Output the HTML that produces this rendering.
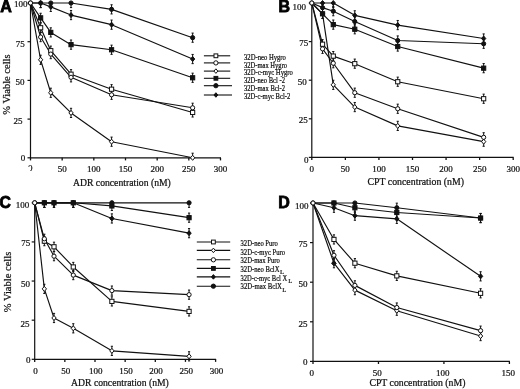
<!DOCTYPE html>
<html><head><meta charset="utf-8"><style>
html,body{margin:0;padding:0;background:#fff;}
svg{display:block;will-change:transform;}
text{fill:#111;stroke:#111;stroke-width:0.22px;}
</style></head><body>
<svg width="520" height="389" viewBox="0 0 520 389">
<rect width="520" height="389" fill="#fff"/>
<line x1="30.50" y1="2.50" x2="30.50" y2="158.30" stroke="#111" stroke-width="1.2"/>
<line x1="30.00" y1="157.80" x2="221.00" y2="157.80" stroke="#111" stroke-width="1.2"/>
<line x1="27.50" y1="157.80" x2="30.50" y2="157.80" stroke="#111" stroke-width="1.2"/>
<line x1="27.50" y1="119.10" x2="30.50" y2="119.10" stroke="#111" stroke-width="1.2"/>
<line x1="27.50" y1="80.40" x2="30.50" y2="80.40" stroke="#111" stroke-width="1.2"/>
<line x1="27.50" y1="41.70" x2="30.50" y2="41.70" stroke="#111" stroke-width="1.2"/>
<line x1="27.50" y1="3.00" x2="30.50" y2="3.00" stroke="#111" stroke-width="1.2"/>
<line x1="30.50" y1="157.80" x2="30.50" y2="160.40" stroke="#111" stroke-width="1.3"/>
<line x1="62.17" y1="157.80" x2="62.17" y2="160.40" stroke="#111" stroke-width="1.3"/>
<line x1="93.83" y1="157.80" x2="93.83" y2="160.40" stroke="#111" stroke-width="1.3"/>
<line x1="125.50" y1="157.80" x2="125.50" y2="160.40" stroke="#111" stroke-width="1.3"/>
<line x1="157.17" y1="157.80" x2="157.17" y2="160.40" stroke="#111" stroke-width="1.3"/>
<line x1="188.83" y1="157.80" x2="188.83" y2="160.40" stroke="#111" stroke-width="1.3"/>
<line x1="220.50" y1="157.80" x2="220.50" y2="160.40" stroke="#111" stroke-width="1.3"/>
<text x="27.60" y="7.00" font-family="Liberation Serif" font-size="9.0" font-weight="normal" text-anchor="end" >100</text>
<text x="24.80" y="46.90" font-family="Liberation Serif" font-size="9.0" font-weight="normal" text-anchor="end" >75</text>
<text x="24.40" y="85.30" font-family="Liberation Serif" font-size="9.0" font-weight="normal" text-anchor="end" >50</text>
<text x="22.60" y="123.60" font-family="Liberation Serif" font-size="9.0" font-weight="normal" text-anchor="end" >25</text>
<text x="25.20" y="160.80" font-family="Liberation Serif" font-size="9.0" font-weight="normal" text-anchor="end" >0</text>
<text x="62.17" y="172.20" font-family="Liberation Serif" font-size="9.0" font-weight="normal" text-anchor="middle" >50</text>
<text x="93.83" y="172.20" font-family="Liberation Serif" font-size="9.0" font-weight="normal" text-anchor="middle" >100</text>
<text x="125.50" y="172.20" font-family="Liberation Serif" font-size="9.0" font-weight="normal" text-anchor="middle" >150</text>
<text x="157.17" y="172.20" font-family="Liberation Serif" font-size="9.0" font-weight="normal" text-anchor="middle" >200</text>
<text x="188.83" y="172.20" font-family="Liberation Serif" font-size="9.0" font-weight="normal" text-anchor="middle" >250</text>
<text x="220.50" y="172.20" font-family="Liberation Serif" font-size="9.0" font-weight="normal" text-anchor="middle" >300</text>
<polyline points="30.50,3.00 40.63,27.77 50.77,50.68 71.03,74.21 111.57,89.22 192.63,112.44" fill="none" stroke="#111" stroke-width="1.15" stroke-linejoin="round"/>
<polyline points="30.50,3.00 40.63,37.06 50.77,54.08 71.03,77.30 111.57,94.80 192.63,107.80" fill="none" stroke="#111" stroke-width="1.15" stroke-linejoin="round"/>
<polyline points="30.50,3.00 40.63,59.81 50.77,92.78 71.03,112.91 111.57,141.70 192.63,157.80" fill="none" stroke="#111" stroke-width="1.15" stroke-linejoin="round"/>
<polyline points="30.50,3.00 40.63,17.86 50.77,32.41 71.03,44.64 111.57,49.75 192.63,77.77" fill="none" stroke="#111" stroke-width="1.15" stroke-linejoin="round"/>
<polyline points="30.50,3.00 40.63,3.00 50.77,3.00 71.03,3.00 111.57,9.35 192.63,37.68" fill="none" stroke="#111" stroke-width="1.15" stroke-linejoin="round"/>
<polyline points="30.50,3.00 40.63,3.00 50.77,6.87 71.03,15.07 111.57,24.67 192.63,59.04" fill="none" stroke="#111" stroke-width="1.15" stroke-linejoin="round"/>
<line x1="40.63" y1="23.17" x2="40.63" y2="32.37" stroke="#111" stroke-width="1.0"/>
<line x1="39.53" y1="23.17" x2="41.73" y2="23.17" stroke="#111" stroke-width="1.0"/>
<line x1="39.53" y1="32.37" x2="41.73" y2="32.37" stroke="#111" stroke-width="1.0"/>
<line x1="50.77" y1="46.08" x2="50.77" y2="55.28" stroke="#111" stroke-width="1.0"/>
<line x1="49.67" y1="46.08" x2="51.87" y2="46.08" stroke="#111" stroke-width="1.0"/>
<line x1="49.67" y1="55.28" x2="51.87" y2="55.28" stroke="#111" stroke-width="1.0"/>
<line x1="71.03" y1="69.61" x2="71.03" y2="78.81" stroke="#111" stroke-width="1.0"/>
<line x1="69.93" y1="69.61" x2="72.13" y2="69.61" stroke="#111" stroke-width="1.0"/>
<line x1="69.93" y1="78.81" x2="72.13" y2="78.81" stroke="#111" stroke-width="1.0"/>
<line x1="111.57" y1="84.62" x2="111.57" y2="93.82" stroke="#111" stroke-width="1.0"/>
<line x1="110.47" y1="84.62" x2="112.67" y2="84.62" stroke="#111" stroke-width="1.0"/>
<line x1="110.47" y1="93.82" x2="112.67" y2="93.82" stroke="#111" stroke-width="1.0"/>
<line x1="192.63" y1="107.84" x2="192.63" y2="117.04" stroke="#111" stroke-width="1.0"/>
<line x1="191.53" y1="107.84" x2="193.73" y2="107.84" stroke="#111" stroke-width="1.0"/>
<line x1="191.53" y1="117.04" x2="193.73" y2="117.04" stroke="#111" stroke-width="1.0"/>
<line x1="40.63" y1="32.46" x2="40.63" y2="41.66" stroke="#111" stroke-width="1.0"/>
<line x1="39.53" y1="32.46" x2="41.73" y2="32.46" stroke="#111" stroke-width="1.0"/>
<line x1="39.53" y1="41.66" x2="41.73" y2="41.66" stroke="#111" stroke-width="1.0"/>
<line x1="50.77" y1="49.48" x2="50.77" y2="58.68" stroke="#111" stroke-width="1.0"/>
<line x1="49.67" y1="49.48" x2="51.87" y2="49.48" stroke="#111" stroke-width="1.0"/>
<line x1="49.67" y1="58.68" x2="51.87" y2="58.68" stroke="#111" stroke-width="1.0"/>
<line x1="71.03" y1="72.70" x2="71.03" y2="81.90" stroke="#111" stroke-width="1.0"/>
<line x1="69.93" y1="72.70" x2="72.13" y2="72.70" stroke="#111" stroke-width="1.0"/>
<line x1="69.93" y1="81.90" x2="72.13" y2="81.90" stroke="#111" stroke-width="1.0"/>
<line x1="111.57" y1="90.20" x2="111.57" y2="99.40" stroke="#111" stroke-width="1.0"/>
<line x1="110.47" y1="90.20" x2="112.67" y2="90.20" stroke="#111" stroke-width="1.0"/>
<line x1="110.47" y1="99.40" x2="112.67" y2="99.40" stroke="#111" stroke-width="1.0"/>
<line x1="192.63" y1="103.20" x2="192.63" y2="112.40" stroke="#111" stroke-width="1.0"/>
<line x1="191.53" y1="103.20" x2="193.73" y2="103.20" stroke="#111" stroke-width="1.0"/>
<line x1="191.53" y1="112.40" x2="193.73" y2="112.40" stroke="#111" stroke-width="1.0"/>
<line x1="40.63" y1="55.21" x2="40.63" y2="64.41" stroke="#111" stroke-width="1.0"/>
<line x1="39.53" y1="55.21" x2="41.73" y2="55.21" stroke="#111" stroke-width="1.0"/>
<line x1="39.53" y1="64.41" x2="41.73" y2="64.41" stroke="#111" stroke-width="1.0"/>
<line x1="50.77" y1="88.18" x2="50.77" y2="97.38" stroke="#111" stroke-width="1.0"/>
<line x1="49.67" y1="88.18" x2="51.87" y2="88.18" stroke="#111" stroke-width="1.0"/>
<line x1="49.67" y1="97.38" x2="51.87" y2="97.38" stroke="#111" stroke-width="1.0"/>
<line x1="71.03" y1="108.31" x2="71.03" y2="117.51" stroke="#111" stroke-width="1.0"/>
<line x1="69.93" y1="108.31" x2="72.13" y2="108.31" stroke="#111" stroke-width="1.0"/>
<line x1="69.93" y1="117.51" x2="72.13" y2="117.51" stroke="#111" stroke-width="1.0"/>
<line x1="111.57" y1="137.10" x2="111.57" y2="146.30" stroke="#111" stroke-width="1.0"/>
<line x1="110.47" y1="137.10" x2="112.67" y2="137.10" stroke="#111" stroke-width="1.0"/>
<line x1="110.47" y1="146.30" x2="112.67" y2="146.30" stroke="#111" stroke-width="1.0"/>
<line x1="192.63" y1="153.20" x2="192.63" y2="157.80" stroke="#111" stroke-width="1.0"/>
<line x1="191.53" y1="153.20" x2="193.73" y2="153.20" stroke="#111" stroke-width="1.0"/>
<line x1="40.63" y1="13.26" x2="40.63" y2="22.46" stroke="#111" stroke-width="1.0"/>
<line x1="39.53" y1="13.26" x2="41.73" y2="13.26" stroke="#111" stroke-width="1.0"/>
<line x1="39.53" y1="22.46" x2="41.73" y2="22.46" stroke="#111" stroke-width="1.0"/>
<line x1="50.77" y1="27.81" x2="50.77" y2="37.01" stroke="#111" stroke-width="1.0"/>
<line x1="49.67" y1="27.81" x2="51.87" y2="27.81" stroke="#111" stroke-width="1.0"/>
<line x1="49.67" y1="37.01" x2="51.87" y2="37.01" stroke="#111" stroke-width="1.0"/>
<line x1="71.03" y1="40.04" x2="71.03" y2="49.24" stroke="#111" stroke-width="1.0"/>
<line x1="69.93" y1="40.04" x2="72.13" y2="40.04" stroke="#111" stroke-width="1.0"/>
<line x1="69.93" y1="49.24" x2="72.13" y2="49.24" stroke="#111" stroke-width="1.0"/>
<line x1="111.57" y1="45.15" x2="111.57" y2="54.35" stroke="#111" stroke-width="1.0"/>
<line x1="110.47" y1="45.15" x2="112.67" y2="45.15" stroke="#111" stroke-width="1.0"/>
<line x1="110.47" y1="54.35" x2="112.67" y2="54.35" stroke="#111" stroke-width="1.0"/>
<line x1="192.63" y1="73.17" x2="192.63" y2="82.37" stroke="#111" stroke-width="1.0"/>
<line x1="191.53" y1="73.17" x2="193.73" y2="73.17" stroke="#111" stroke-width="1.0"/>
<line x1="191.53" y1="82.37" x2="193.73" y2="82.37" stroke="#111" stroke-width="1.0"/>
<line x1="40.63" y1="3.00" x2="40.63" y2="7.60" stroke="#111" stroke-width="1.0"/>
<line x1="39.53" y1="7.60" x2="41.73" y2="7.60" stroke="#111" stroke-width="1.0"/>
<line x1="50.77" y1="3.00" x2="50.77" y2="7.60" stroke="#111" stroke-width="1.0"/>
<line x1="49.67" y1="7.60" x2="51.87" y2="7.60" stroke="#111" stroke-width="1.0"/>
<line x1="71.03" y1="3.00" x2="71.03" y2="7.60" stroke="#111" stroke-width="1.0"/>
<line x1="69.93" y1="7.60" x2="72.13" y2="7.60" stroke="#111" stroke-width="1.0"/>
<line x1="111.57" y1="4.75" x2="111.57" y2="13.95" stroke="#111" stroke-width="1.0"/>
<line x1="110.47" y1="4.75" x2="112.67" y2="4.75" stroke="#111" stroke-width="1.0"/>
<line x1="110.47" y1="13.95" x2="112.67" y2="13.95" stroke="#111" stroke-width="1.0"/>
<line x1="192.63" y1="33.08" x2="192.63" y2="42.28" stroke="#111" stroke-width="1.0"/>
<line x1="191.53" y1="33.08" x2="193.73" y2="33.08" stroke="#111" stroke-width="1.0"/>
<line x1="191.53" y1="42.28" x2="193.73" y2="42.28" stroke="#111" stroke-width="1.0"/>
<line x1="40.63" y1="3.00" x2="40.63" y2="7.60" stroke="#111" stroke-width="1.0"/>
<line x1="39.53" y1="7.60" x2="41.73" y2="7.60" stroke="#111" stroke-width="1.0"/>
<line x1="50.77" y1="2.27" x2="50.77" y2="11.47" stroke="#111" stroke-width="1.0"/>
<line x1="49.67" y1="2.27" x2="51.87" y2="2.27" stroke="#111" stroke-width="1.0"/>
<line x1="49.67" y1="11.47" x2="51.87" y2="11.47" stroke="#111" stroke-width="1.0"/>
<line x1="71.03" y1="10.47" x2="71.03" y2="19.67" stroke="#111" stroke-width="1.0"/>
<line x1="69.93" y1="10.47" x2="72.13" y2="10.47" stroke="#111" stroke-width="1.0"/>
<line x1="69.93" y1="19.67" x2="72.13" y2="19.67" stroke="#111" stroke-width="1.0"/>
<line x1="111.57" y1="20.07" x2="111.57" y2="29.27" stroke="#111" stroke-width="1.0"/>
<line x1="110.47" y1="20.07" x2="112.67" y2="20.07" stroke="#111" stroke-width="1.0"/>
<line x1="110.47" y1="29.27" x2="112.67" y2="29.27" stroke="#111" stroke-width="1.0"/>
<line x1="192.63" y1="54.44" x2="192.63" y2="63.64" stroke="#111" stroke-width="1.0"/>
<line x1="191.53" y1="54.44" x2="193.73" y2="54.44" stroke="#111" stroke-width="1.0"/>
<line x1="191.53" y1="63.64" x2="193.73" y2="63.64" stroke="#111" stroke-width="1.0"/>
<rect x="38.53" y="25.67" width="4.20" height="4.20" fill="#fff" stroke="#111" stroke-width="1.0"/>
<rect x="48.67" y="48.58" width="4.20" height="4.20" fill="#fff" stroke="#111" stroke-width="1.0"/>
<rect x="68.93" y="72.11" width="4.20" height="4.20" fill="#fff" stroke="#111" stroke-width="1.0"/>
<rect x="109.47" y="87.12" width="4.20" height="4.20" fill="#fff" stroke="#111" stroke-width="1.0"/>
<rect x="190.53" y="110.34" width="4.20" height="4.20" fill="#fff" stroke="#111" stroke-width="1.0"/>
<circle cx="30.50" cy="3.00" r="2.10" fill="#fff" stroke="#111" stroke-width="1.0"/>
<circle cx="40.63" cy="37.06" r="2.10" fill="#fff" stroke="#111" stroke-width="1.0"/>
<circle cx="50.77" cy="54.08" r="2.10" fill="#fff" stroke="#111" stroke-width="1.0"/>
<circle cx="71.03" cy="77.30" r="2.10" fill="#fff" stroke="#111" stroke-width="1.0"/>
<circle cx="111.57" cy="94.80" r="2.10" fill="#fff" stroke="#111" stroke-width="1.0"/>
<circle cx="192.63" cy="107.80" r="2.10" fill="#fff" stroke="#111" stroke-width="1.0"/>
<polygon points="40.63,57.29 42.78,59.81 40.63,62.33 38.49,59.81" fill="#fff" stroke="#111" stroke-width="1.0"/>
<polygon points="50.77,90.26 52.91,92.78 50.77,95.30 48.62,92.78" fill="#fff" stroke="#111" stroke-width="1.0"/>
<polygon points="71.03,110.39 73.18,112.91 71.03,115.43 68.89,112.91" fill="#fff" stroke="#111" stroke-width="1.0"/>
<polygon points="111.57,139.18 113.71,141.70 111.57,144.22 109.42,141.70" fill="#fff" stroke="#111" stroke-width="1.0"/>
<polygon points="192.63,155.28 194.78,157.80 192.63,160.32 190.49,157.80" fill="#fff" stroke="#111" stroke-width="1.0"/>
<rect x="38.53" y="15.76" width="4.20" height="4.20" fill="#111" stroke="#111" stroke-width="1.0"/>
<rect x="48.67" y="30.31" width="4.20" height="4.20" fill="#111" stroke="#111" stroke-width="1.0"/>
<rect x="68.93" y="42.54" width="4.20" height="4.20" fill="#111" stroke="#111" stroke-width="1.0"/>
<rect x="109.47" y="47.65" width="4.20" height="4.20" fill="#111" stroke="#111" stroke-width="1.0"/>
<rect x="190.53" y="75.67" width="4.20" height="4.20" fill="#111" stroke="#111" stroke-width="1.0"/>
<circle cx="40.63" cy="3.00" r="2.10" fill="#111" stroke="#111" stroke-width="1.0"/>
<circle cx="50.77" cy="3.00" r="2.10" fill="#111" stroke="#111" stroke-width="1.0"/>
<circle cx="71.03" cy="3.00" r="2.10" fill="#111" stroke="#111" stroke-width="1.0"/>
<circle cx="111.57" cy="9.35" r="2.10" fill="#111" stroke="#111" stroke-width="1.0"/>
<circle cx="192.63" cy="37.68" r="2.10" fill="#111" stroke="#111" stroke-width="1.0"/>
<polygon points="40.63,0.48 42.78,3.00 40.63,5.52 38.49,3.00" fill="#111" stroke="#111" stroke-width="1.0"/>
<polygon points="50.77,4.35 52.91,6.87 50.77,9.39 48.62,6.87" fill="#111" stroke="#111" stroke-width="1.0"/>
<polygon points="71.03,12.55 73.18,15.07 71.03,17.59 68.89,15.07" fill="#111" stroke="#111" stroke-width="1.0"/>
<polygon points="111.57,22.15 113.71,24.67 111.57,27.19 109.42,24.67" fill="#111" stroke="#111" stroke-width="1.0"/>
<polygon points="192.63,56.52 194.78,59.04 192.63,61.56 190.49,59.04" fill="#111" stroke="#111" stroke-width="1.0"/>
<circle cx="30.50" cy="3.00" r="2.10" fill="#fff" stroke="#111" stroke-width="1.0"/>
<line x1="311.80" y1="2.50" x2="311.80" y2="157.90" stroke="#111" stroke-width="1.2"/>
<line x1="311.30" y1="157.40" x2="513.70" y2="157.40" stroke="#111" stroke-width="1.2"/>
<line x1="308.80" y1="157.40" x2="311.80" y2="157.40" stroke="#111" stroke-width="1.2"/>
<line x1="308.80" y1="118.80" x2="311.80" y2="118.80" stroke="#111" stroke-width="1.2"/>
<line x1="308.80" y1="80.20" x2="311.80" y2="80.20" stroke="#111" stroke-width="1.2"/>
<line x1="308.80" y1="41.60" x2="311.80" y2="41.60" stroke="#111" stroke-width="1.2"/>
<line x1="308.80" y1="3.00" x2="311.80" y2="3.00" stroke="#111" stroke-width="1.2"/>
<line x1="311.80" y1="157.40" x2="311.80" y2="160.00" stroke="#111" stroke-width="1.3"/>
<line x1="345.37" y1="157.40" x2="345.37" y2="160.00" stroke="#111" stroke-width="1.3"/>
<line x1="378.93" y1="157.40" x2="378.93" y2="160.00" stroke="#111" stroke-width="1.3"/>
<line x1="412.50" y1="157.40" x2="412.50" y2="160.00" stroke="#111" stroke-width="1.3"/>
<line x1="446.07" y1="157.40" x2="446.07" y2="160.00" stroke="#111" stroke-width="1.3"/>
<line x1="479.63" y1="157.40" x2="479.63" y2="160.00" stroke="#111" stroke-width="1.3"/>
<line x1="513.20" y1="157.40" x2="513.20" y2="160.00" stroke="#111" stroke-width="1.3"/>
<text x="305.90" y="9.80" font-family="Liberation Serif" font-size="9.0" font-weight="normal" text-anchor="end" >100</text>
<text x="308.30" y="45.80" font-family="Liberation Serif" font-size="9.0" font-weight="normal" text-anchor="end" >75</text>
<text x="306.80" y="84.60" font-family="Liberation Serif" font-size="9.0" font-weight="normal" text-anchor="end" >50</text>
<text x="307.70" y="122.80" font-family="Liberation Serif" font-size="9.0" font-weight="normal" text-anchor="end" >25</text>
<text x="308.60" y="162.60" font-family="Liberation Serif" font-size="9.0" font-weight="normal" text-anchor="end" >0</text>
<text x="311.80" y="171.80" font-family="Liberation Serif" font-size="9.0" font-weight="normal" text-anchor="middle" >0</text>
<text x="345.37" y="171.80" font-family="Liberation Serif" font-size="9.0" font-weight="normal" text-anchor="middle" >50</text>
<text x="378.93" y="171.80" font-family="Liberation Serif" font-size="9.0" font-weight="normal" text-anchor="middle" >100</text>
<text x="412.50" y="171.80" font-family="Liberation Serif" font-size="9.0" font-weight="normal" text-anchor="middle" >150</text>
<text x="446.07" y="171.80" font-family="Liberation Serif" font-size="9.0" font-weight="normal" text-anchor="middle" >200</text>
<text x="479.63" y="171.80" font-family="Liberation Serif" font-size="9.0" font-weight="normal" text-anchor="middle" >250</text>
<text x="513.20" y="171.80" font-family="Liberation Serif" font-size="9.0" font-weight="normal" text-anchor="middle" >300</text>
<polyline points="311.80,3.00 322.54,44.22 333.28,56.11 354.77,63.68 397.73,81.74 483.66,98.73" fill="none" stroke="#111" stroke-width="1.15" stroke-linejoin="round"/>
<polyline points="311.80,3.00 322.54,48.86 333.28,63.22 354.77,92.71 397.73,108.76 483.66,137.33" fill="none" stroke="#111" stroke-width="1.15" stroke-linejoin="round"/>
<polyline points="311.80,3.00 322.54,13.81 333.28,84.83 354.77,107.07 397.73,125.90 483.66,141.65" fill="none" stroke="#111" stroke-width="1.15" stroke-linejoin="round"/>
<polyline points="311.80,3.00 322.54,13.81 333.28,24.62 354.77,29.25 397.73,46.54 483.66,68.16" fill="none" stroke="#111" stroke-width="1.15" stroke-linejoin="round"/>
<polyline points="311.80,3.00 322.54,7.63 333.28,11.18 354.77,21.53 397.73,40.52 483.66,43.76" fill="none" stroke="#111" stroke-width="1.15" stroke-linejoin="round"/>
<polyline points="311.80,3.00 322.54,3.00 333.28,3.00 354.77,15.35 397.73,25.08 483.66,38.51" fill="none" stroke="#111" stroke-width="1.15" stroke-linejoin="round"/>
<line x1="322.54" y1="39.62" x2="322.54" y2="48.82" stroke="#111" stroke-width="1.0"/>
<line x1="321.44" y1="39.62" x2="323.64" y2="39.62" stroke="#111" stroke-width="1.0"/>
<line x1="321.44" y1="48.82" x2="323.64" y2="48.82" stroke="#111" stroke-width="1.0"/>
<line x1="333.28" y1="51.51" x2="333.28" y2="60.71" stroke="#111" stroke-width="1.0"/>
<line x1="332.18" y1="51.51" x2="334.38" y2="51.51" stroke="#111" stroke-width="1.0"/>
<line x1="332.18" y1="60.71" x2="334.38" y2="60.71" stroke="#111" stroke-width="1.0"/>
<line x1="354.77" y1="59.08" x2="354.77" y2="68.28" stroke="#111" stroke-width="1.0"/>
<line x1="353.67" y1="59.08" x2="355.87" y2="59.08" stroke="#111" stroke-width="1.0"/>
<line x1="353.67" y1="68.28" x2="355.87" y2="68.28" stroke="#111" stroke-width="1.0"/>
<line x1="397.73" y1="77.14" x2="397.73" y2="86.34" stroke="#111" stroke-width="1.0"/>
<line x1="396.63" y1="77.14" x2="398.83" y2="77.14" stroke="#111" stroke-width="1.0"/>
<line x1="396.63" y1="86.34" x2="398.83" y2="86.34" stroke="#111" stroke-width="1.0"/>
<line x1="483.66" y1="94.13" x2="483.66" y2="103.33" stroke="#111" stroke-width="1.0"/>
<line x1="482.56" y1="94.13" x2="484.76" y2="94.13" stroke="#111" stroke-width="1.0"/>
<line x1="482.56" y1="103.33" x2="484.76" y2="103.33" stroke="#111" stroke-width="1.0"/>
<line x1="322.54" y1="44.26" x2="322.54" y2="53.46" stroke="#111" stroke-width="1.0"/>
<line x1="321.44" y1="44.26" x2="323.64" y2="44.26" stroke="#111" stroke-width="1.0"/>
<line x1="321.44" y1="53.46" x2="323.64" y2="53.46" stroke="#111" stroke-width="1.0"/>
<line x1="333.28" y1="58.62" x2="333.28" y2="67.82" stroke="#111" stroke-width="1.0"/>
<line x1="332.18" y1="58.62" x2="334.38" y2="58.62" stroke="#111" stroke-width="1.0"/>
<line x1="332.18" y1="67.82" x2="334.38" y2="67.82" stroke="#111" stroke-width="1.0"/>
<line x1="354.77" y1="88.11" x2="354.77" y2="97.31" stroke="#111" stroke-width="1.0"/>
<line x1="353.67" y1="88.11" x2="355.87" y2="88.11" stroke="#111" stroke-width="1.0"/>
<line x1="353.67" y1="97.31" x2="355.87" y2="97.31" stroke="#111" stroke-width="1.0"/>
<line x1="397.73" y1="104.16" x2="397.73" y2="113.36" stroke="#111" stroke-width="1.0"/>
<line x1="396.63" y1="104.16" x2="398.83" y2="104.16" stroke="#111" stroke-width="1.0"/>
<line x1="396.63" y1="113.36" x2="398.83" y2="113.36" stroke="#111" stroke-width="1.0"/>
<line x1="483.66" y1="132.73" x2="483.66" y2="141.93" stroke="#111" stroke-width="1.0"/>
<line x1="482.56" y1="132.73" x2="484.76" y2="132.73" stroke="#111" stroke-width="1.0"/>
<line x1="482.56" y1="141.93" x2="484.76" y2="141.93" stroke="#111" stroke-width="1.0"/>
<line x1="322.54" y1="9.21" x2="322.54" y2="18.41" stroke="#111" stroke-width="1.0"/>
<line x1="321.44" y1="9.21" x2="323.64" y2="9.21" stroke="#111" stroke-width="1.0"/>
<line x1="321.44" y1="18.41" x2="323.64" y2="18.41" stroke="#111" stroke-width="1.0"/>
<line x1="333.28" y1="80.23" x2="333.28" y2="89.43" stroke="#111" stroke-width="1.0"/>
<line x1="332.18" y1="80.23" x2="334.38" y2="80.23" stroke="#111" stroke-width="1.0"/>
<line x1="332.18" y1="89.43" x2="334.38" y2="89.43" stroke="#111" stroke-width="1.0"/>
<line x1="354.77" y1="102.47" x2="354.77" y2="111.67" stroke="#111" stroke-width="1.0"/>
<line x1="353.67" y1="102.47" x2="355.87" y2="102.47" stroke="#111" stroke-width="1.0"/>
<line x1="353.67" y1="111.67" x2="355.87" y2="111.67" stroke="#111" stroke-width="1.0"/>
<line x1="397.73" y1="121.30" x2="397.73" y2="130.50" stroke="#111" stroke-width="1.0"/>
<line x1="396.63" y1="121.30" x2="398.83" y2="121.30" stroke="#111" stroke-width="1.0"/>
<line x1="396.63" y1="130.50" x2="398.83" y2="130.50" stroke="#111" stroke-width="1.0"/>
<line x1="483.66" y1="137.05" x2="483.66" y2="146.25" stroke="#111" stroke-width="1.0"/>
<line x1="482.56" y1="137.05" x2="484.76" y2="137.05" stroke="#111" stroke-width="1.0"/>
<line x1="482.56" y1="146.25" x2="484.76" y2="146.25" stroke="#111" stroke-width="1.0"/>
<line x1="322.54" y1="9.21" x2="322.54" y2="18.41" stroke="#111" stroke-width="1.0"/>
<line x1="321.44" y1="9.21" x2="323.64" y2="9.21" stroke="#111" stroke-width="1.0"/>
<line x1="321.44" y1="18.41" x2="323.64" y2="18.41" stroke="#111" stroke-width="1.0"/>
<line x1="333.28" y1="20.02" x2="333.28" y2="29.22" stroke="#111" stroke-width="1.0"/>
<line x1="332.18" y1="20.02" x2="334.38" y2="20.02" stroke="#111" stroke-width="1.0"/>
<line x1="332.18" y1="29.22" x2="334.38" y2="29.22" stroke="#111" stroke-width="1.0"/>
<line x1="354.77" y1="24.65" x2="354.77" y2="33.85" stroke="#111" stroke-width="1.0"/>
<line x1="353.67" y1="24.65" x2="355.87" y2="24.65" stroke="#111" stroke-width="1.0"/>
<line x1="353.67" y1="33.85" x2="355.87" y2="33.85" stroke="#111" stroke-width="1.0"/>
<line x1="397.73" y1="41.94" x2="397.73" y2="51.14" stroke="#111" stroke-width="1.0"/>
<line x1="396.63" y1="41.94" x2="398.83" y2="41.94" stroke="#111" stroke-width="1.0"/>
<line x1="396.63" y1="51.14" x2="398.83" y2="51.14" stroke="#111" stroke-width="1.0"/>
<line x1="483.66" y1="63.56" x2="483.66" y2="72.76" stroke="#111" stroke-width="1.0"/>
<line x1="482.56" y1="63.56" x2="484.76" y2="63.56" stroke="#111" stroke-width="1.0"/>
<line x1="482.56" y1="72.76" x2="484.76" y2="72.76" stroke="#111" stroke-width="1.0"/>
<line x1="322.54" y1="3.03" x2="322.54" y2="12.23" stroke="#111" stroke-width="1.0"/>
<line x1="321.44" y1="3.03" x2="323.64" y2="3.03" stroke="#111" stroke-width="1.0"/>
<line x1="321.44" y1="12.23" x2="323.64" y2="12.23" stroke="#111" stroke-width="1.0"/>
<line x1="333.28" y1="6.58" x2="333.28" y2="15.78" stroke="#111" stroke-width="1.0"/>
<line x1="332.18" y1="6.58" x2="334.38" y2="6.58" stroke="#111" stroke-width="1.0"/>
<line x1="332.18" y1="15.78" x2="334.38" y2="15.78" stroke="#111" stroke-width="1.0"/>
<line x1="354.77" y1="16.93" x2="354.77" y2="26.13" stroke="#111" stroke-width="1.0"/>
<line x1="353.67" y1="16.93" x2="355.87" y2="16.93" stroke="#111" stroke-width="1.0"/>
<line x1="353.67" y1="26.13" x2="355.87" y2="26.13" stroke="#111" stroke-width="1.0"/>
<line x1="397.73" y1="35.92" x2="397.73" y2="45.12" stroke="#111" stroke-width="1.0"/>
<line x1="396.63" y1="35.92" x2="398.83" y2="35.92" stroke="#111" stroke-width="1.0"/>
<line x1="396.63" y1="45.12" x2="398.83" y2="45.12" stroke="#111" stroke-width="1.0"/>
<line x1="483.66" y1="39.16" x2="483.66" y2="48.36" stroke="#111" stroke-width="1.0"/>
<line x1="482.56" y1="39.16" x2="484.76" y2="39.16" stroke="#111" stroke-width="1.0"/>
<line x1="482.56" y1="48.36" x2="484.76" y2="48.36" stroke="#111" stroke-width="1.0"/>
<line x1="322.54" y1="3.00" x2="322.54" y2="7.60" stroke="#111" stroke-width="1.0"/>
<line x1="321.44" y1="7.60" x2="323.64" y2="7.60" stroke="#111" stroke-width="1.0"/>
<line x1="333.28" y1="3.00" x2="333.28" y2="7.60" stroke="#111" stroke-width="1.0"/>
<line x1="332.18" y1="7.60" x2="334.38" y2="7.60" stroke="#111" stroke-width="1.0"/>
<line x1="354.77" y1="10.75" x2="354.77" y2="19.95" stroke="#111" stroke-width="1.0"/>
<line x1="353.67" y1="10.75" x2="355.87" y2="10.75" stroke="#111" stroke-width="1.0"/>
<line x1="353.67" y1="19.95" x2="355.87" y2="19.95" stroke="#111" stroke-width="1.0"/>
<line x1="397.73" y1="20.48" x2="397.73" y2="29.68" stroke="#111" stroke-width="1.0"/>
<line x1="396.63" y1="20.48" x2="398.83" y2="20.48" stroke="#111" stroke-width="1.0"/>
<line x1="396.63" y1="29.68" x2="398.83" y2="29.68" stroke="#111" stroke-width="1.0"/>
<line x1="483.66" y1="33.91" x2="483.66" y2="43.11" stroke="#111" stroke-width="1.0"/>
<line x1="482.56" y1="33.91" x2="484.76" y2="33.91" stroke="#111" stroke-width="1.0"/>
<line x1="482.56" y1="43.11" x2="484.76" y2="43.11" stroke="#111" stroke-width="1.0"/>
<rect x="320.44" y="42.12" width="4.20" height="4.20" fill="#fff" stroke="#111" stroke-width="1.0"/>
<rect x="331.18" y="54.01" width="4.20" height="4.20" fill="#fff" stroke="#111" stroke-width="1.0"/>
<rect x="352.67" y="61.58" width="4.20" height="4.20" fill="#fff" stroke="#111" stroke-width="1.0"/>
<rect x="395.63" y="79.64" width="4.20" height="4.20" fill="#fff" stroke="#111" stroke-width="1.0"/>
<rect x="481.56" y="96.63" width="4.20" height="4.20" fill="#fff" stroke="#111" stroke-width="1.0"/>
<circle cx="311.80" cy="3.00" r="2.10" fill="#fff" stroke="#111" stroke-width="1.0"/>
<circle cx="322.54" cy="48.86" r="2.10" fill="#fff" stroke="#111" stroke-width="1.0"/>
<circle cx="333.28" cy="63.22" r="2.10" fill="#fff" stroke="#111" stroke-width="1.0"/>
<circle cx="354.77" cy="92.71" r="2.10" fill="#fff" stroke="#111" stroke-width="1.0"/>
<circle cx="397.73" cy="108.76" r="2.10" fill="#fff" stroke="#111" stroke-width="1.0"/>
<circle cx="483.66" cy="137.33" r="2.10" fill="#fff" stroke="#111" stroke-width="1.0"/>
<polygon points="322.54,11.29 324.68,13.81 322.54,16.33 320.40,13.81" fill="#fff" stroke="#111" stroke-width="1.0"/>
<polygon points="333.28,82.31 335.42,84.83 333.28,87.35 331.14,84.83" fill="#fff" stroke="#111" stroke-width="1.0"/>
<polygon points="354.77,104.55 356.91,107.07 354.77,109.59 352.62,107.07" fill="#fff" stroke="#111" stroke-width="1.0"/>
<polygon points="397.73,123.38 399.87,125.90 397.73,128.42 395.59,125.90" fill="#fff" stroke="#111" stroke-width="1.0"/>
<polygon points="483.66,139.13 485.80,141.65 483.66,144.17 481.52,141.65" fill="#fff" stroke="#111" stroke-width="1.0"/>
<rect x="320.44" y="11.71" width="4.20" height="4.20" fill="#111" stroke="#111" stroke-width="1.0"/>
<rect x="331.18" y="22.52" width="4.20" height="4.20" fill="#111" stroke="#111" stroke-width="1.0"/>
<rect x="352.67" y="27.15" width="4.20" height="4.20" fill="#111" stroke="#111" stroke-width="1.0"/>
<rect x="395.63" y="44.44" width="4.20" height="4.20" fill="#111" stroke="#111" stroke-width="1.0"/>
<rect x="481.56" y="66.06" width="4.20" height="4.20" fill="#111" stroke="#111" stroke-width="1.0"/>
<circle cx="322.54" cy="7.63" r="2.10" fill="#111" stroke="#111" stroke-width="1.0"/>
<circle cx="333.28" cy="11.18" r="2.10" fill="#111" stroke="#111" stroke-width="1.0"/>
<circle cx="354.77" cy="21.53" r="2.10" fill="#111" stroke="#111" stroke-width="1.0"/>
<circle cx="397.73" cy="40.52" r="2.10" fill="#111" stroke="#111" stroke-width="1.0"/>
<circle cx="483.66" cy="43.76" r="2.10" fill="#111" stroke="#111" stroke-width="1.0"/>
<polygon points="322.54,0.48 324.68,3.00 322.54,5.52 320.40,3.00" fill="#111" stroke="#111" stroke-width="1.0"/>
<polygon points="333.28,0.48 335.42,3.00 333.28,5.52 331.14,3.00" fill="#111" stroke="#111" stroke-width="1.0"/>
<polygon points="354.77,12.83 356.91,15.35 354.77,17.87 352.62,15.35" fill="#111" stroke="#111" stroke-width="1.0"/>
<polygon points="397.73,22.56 399.87,25.08 397.73,27.60 395.59,25.08" fill="#111" stroke="#111" stroke-width="1.0"/>
<polygon points="483.66,35.99 485.80,38.51 483.66,41.03 481.52,38.51" fill="#111" stroke="#111" stroke-width="1.0"/>
<circle cx="311.80" cy="3.00" r="2.10" fill="#fff" stroke="#111" stroke-width="1.0"/>
<line x1="34.70" y1="202.30" x2="34.70" y2="359.80" stroke="#111" stroke-width="1.2"/>
<line x1="34.20" y1="359.30" x2="216.10" y2="359.30" stroke="#111" stroke-width="1.2"/>
<line x1="31.70" y1="359.30" x2="34.70" y2="359.30" stroke="#111" stroke-width="1.2"/>
<line x1="31.70" y1="320.18" x2="34.70" y2="320.18" stroke="#111" stroke-width="1.2"/>
<line x1="31.70" y1="281.05" x2="34.70" y2="281.05" stroke="#111" stroke-width="1.2"/>
<line x1="31.70" y1="241.93" x2="34.70" y2="241.93" stroke="#111" stroke-width="1.2"/>
<line x1="31.70" y1="202.80" x2="34.70" y2="202.80" stroke="#111" stroke-width="1.2"/>
<line x1="34.70" y1="359.30" x2="34.70" y2="361.90" stroke="#111" stroke-width="1.3"/>
<line x1="64.85" y1="359.30" x2="64.85" y2="361.90" stroke="#111" stroke-width="1.3"/>
<line x1="95.00" y1="359.30" x2="95.00" y2="361.90" stroke="#111" stroke-width="1.3"/>
<line x1="125.15" y1="359.30" x2="125.15" y2="361.90" stroke="#111" stroke-width="1.3"/>
<line x1="155.30" y1="359.30" x2="155.30" y2="361.90" stroke="#111" stroke-width="1.3"/>
<line x1="185.45" y1="359.30" x2="185.45" y2="361.90" stroke="#111" stroke-width="1.3"/>
<line x1="215.60" y1="359.30" x2="215.60" y2="361.90" stroke="#111" stroke-width="1.3"/>
<text x="29.20" y="207.60" font-family="Liberation Serif" font-size="9.0" font-weight="normal" text-anchor="end" >100</text>
<text x="30.20" y="246.20" font-family="Liberation Serif" font-size="9.0" font-weight="normal" text-anchor="end" >75</text>
<text x="30.00" y="287.30" font-family="Liberation Serif" font-size="9.0" font-weight="normal" text-anchor="end" >50</text>
<text x="29.50" y="327.40" font-family="Liberation Serif" font-size="9.0" font-weight="normal" text-anchor="end" >25</text>
<text x="30.50" y="362.80" font-family="Liberation Serif" font-size="9.0" font-weight="normal" text-anchor="end" >0</text>
<text x="35.50" y="373.90" font-family="Liberation Serif" font-size="9.0" font-weight="normal" text-anchor="middle" >0</text>
<text x="65.65" y="373.90" font-family="Liberation Serif" font-size="9.0" font-weight="normal" text-anchor="middle" >50</text>
<text x="95.80" y="373.90" font-family="Liberation Serif" font-size="9.0" font-weight="normal" text-anchor="middle" >100</text>
<text x="125.95" y="373.90" font-family="Liberation Serif" font-size="9.0" font-weight="normal" text-anchor="middle" >150</text>
<text x="156.10" y="373.90" font-family="Liberation Serif" font-size="9.0" font-weight="normal" text-anchor="middle" >200</text>
<text x="186.25" y="373.90" font-family="Liberation Serif" font-size="9.0" font-weight="normal" text-anchor="middle" >250</text>
<text x="216.40" y="373.90" font-family="Liberation Serif" font-size="9.0" font-weight="normal" text-anchor="middle" >300</text>
<polyline points="34.70,202.80 44.35,241.14 54.00,246.78 73.29,266.97 111.88,301.39 189.07,311.41" fill="none" stroke="#111" stroke-width="1.15" stroke-linejoin="round"/>
<polyline points="34.70,202.80 44.35,288.88 54.00,317.98 73.29,328.31 111.88,350.85 189.07,356.33" fill="none" stroke="#111" stroke-width="1.15" stroke-linejoin="round"/>
<polyline points="34.70,202.80 44.35,238.80 54.00,256.17 73.29,275.10 111.88,290.60 189.07,294.67" fill="none" stroke="#111" stroke-width="1.15" stroke-linejoin="round"/>
<polyline points="34.70,202.80 44.35,202.80 54.00,202.80 73.29,202.80 111.88,202.80 189.07,202.80" fill="none" stroke="#111" stroke-width="1.15" stroke-linejoin="round"/>
<polyline points="34.70,202.80 44.35,202.80 54.00,202.80 73.29,202.80 111.88,218.45 189.07,233.16" fill="none" stroke="#111" stroke-width="1.15" stroke-linejoin="round"/>
<polyline points="34.70,202.80 44.35,202.80 54.00,202.80 73.29,202.80 111.88,205.93 189.07,217.67" fill="none" stroke="#111" stroke-width="1.15" stroke-linejoin="round"/>
<line x1="44.35" y1="236.54" x2="44.35" y2="245.74" stroke="#111" stroke-width="1.0"/>
<line x1="43.25" y1="236.54" x2="45.45" y2="236.54" stroke="#111" stroke-width="1.0"/>
<line x1="43.25" y1="245.74" x2="45.45" y2="245.74" stroke="#111" stroke-width="1.0"/>
<line x1="54.00" y1="242.18" x2="54.00" y2="251.38" stroke="#111" stroke-width="1.0"/>
<line x1="52.90" y1="242.18" x2="55.10" y2="242.18" stroke="#111" stroke-width="1.0"/>
<line x1="52.90" y1="251.38" x2="55.10" y2="251.38" stroke="#111" stroke-width="1.0"/>
<line x1="73.29" y1="262.37" x2="73.29" y2="271.57" stroke="#111" stroke-width="1.0"/>
<line x1="72.19" y1="262.37" x2="74.39" y2="262.37" stroke="#111" stroke-width="1.0"/>
<line x1="72.19" y1="271.57" x2="74.39" y2="271.57" stroke="#111" stroke-width="1.0"/>
<line x1="111.88" y1="296.79" x2="111.88" y2="306.00" stroke="#111" stroke-width="1.0"/>
<line x1="110.78" y1="296.79" x2="112.98" y2="296.79" stroke="#111" stroke-width="1.0"/>
<line x1="110.78" y1="306.00" x2="112.98" y2="306.00" stroke="#111" stroke-width="1.0"/>
<line x1="189.07" y1="306.81" x2="189.07" y2="316.01" stroke="#111" stroke-width="1.0"/>
<line x1="187.97" y1="306.81" x2="190.17" y2="306.81" stroke="#111" stroke-width="1.0"/>
<line x1="187.97" y1="316.01" x2="190.17" y2="316.01" stroke="#111" stroke-width="1.0"/>
<line x1="44.35" y1="284.27" x2="44.35" y2="293.48" stroke="#111" stroke-width="1.0"/>
<line x1="43.25" y1="284.27" x2="45.45" y2="284.27" stroke="#111" stroke-width="1.0"/>
<line x1="43.25" y1="293.48" x2="45.45" y2="293.48" stroke="#111" stroke-width="1.0"/>
<line x1="54.00" y1="313.38" x2="54.00" y2="322.58" stroke="#111" stroke-width="1.0"/>
<line x1="52.90" y1="313.38" x2="55.10" y2="313.38" stroke="#111" stroke-width="1.0"/>
<line x1="52.90" y1="322.58" x2="55.10" y2="322.58" stroke="#111" stroke-width="1.0"/>
<line x1="73.29" y1="323.71" x2="73.29" y2="332.91" stroke="#111" stroke-width="1.0"/>
<line x1="72.19" y1="323.71" x2="74.39" y2="323.71" stroke="#111" stroke-width="1.0"/>
<line x1="72.19" y1="332.91" x2="74.39" y2="332.91" stroke="#111" stroke-width="1.0"/>
<line x1="111.88" y1="346.25" x2="111.88" y2="355.45" stroke="#111" stroke-width="1.0"/>
<line x1="110.78" y1="346.25" x2="112.98" y2="346.25" stroke="#111" stroke-width="1.0"/>
<line x1="110.78" y1="355.45" x2="112.98" y2="355.45" stroke="#111" stroke-width="1.0"/>
<line x1="189.07" y1="351.73" x2="189.07" y2="360.93" stroke="#111" stroke-width="1.0"/>
<line x1="187.97" y1="351.73" x2="190.17" y2="351.73" stroke="#111" stroke-width="1.0"/>
<line x1="187.97" y1="360.93" x2="190.17" y2="360.93" stroke="#111" stroke-width="1.0"/>
<line x1="44.35" y1="234.20" x2="44.35" y2="243.40" stroke="#111" stroke-width="1.0"/>
<line x1="43.25" y1="234.20" x2="45.45" y2="234.20" stroke="#111" stroke-width="1.0"/>
<line x1="43.25" y1="243.40" x2="45.45" y2="243.40" stroke="#111" stroke-width="1.0"/>
<line x1="54.00" y1="251.57" x2="54.00" y2="260.77" stroke="#111" stroke-width="1.0"/>
<line x1="52.90" y1="251.57" x2="55.10" y2="251.57" stroke="#111" stroke-width="1.0"/>
<line x1="52.90" y1="260.77" x2="55.10" y2="260.77" stroke="#111" stroke-width="1.0"/>
<line x1="73.29" y1="270.50" x2="73.29" y2="279.70" stroke="#111" stroke-width="1.0"/>
<line x1="72.19" y1="270.50" x2="74.39" y2="270.50" stroke="#111" stroke-width="1.0"/>
<line x1="72.19" y1="279.70" x2="74.39" y2="279.70" stroke="#111" stroke-width="1.0"/>
<line x1="111.88" y1="286.00" x2="111.88" y2="295.20" stroke="#111" stroke-width="1.0"/>
<line x1="110.78" y1="286.00" x2="112.98" y2="286.00" stroke="#111" stroke-width="1.0"/>
<line x1="110.78" y1="295.20" x2="112.98" y2="295.20" stroke="#111" stroke-width="1.0"/>
<line x1="189.07" y1="290.07" x2="189.07" y2="299.27" stroke="#111" stroke-width="1.0"/>
<line x1="187.97" y1="290.07" x2="190.17" y2="290.07" stroke="#111" stroke-width="1.0"/>
<line x1="187.97" y1="299.27" x2="190.17" y2="299.27" stroke="#111" stroke-width="1.0"/>
<line x1="44.35" y1="202.80" x2="44.35" y2="207.40" stroke="#111" stroke-width="1.0"/>
<line x1="43.25" y1="207.40" x2="45.45" y2="207.40" stroke="#111" stroke-width="1.0"/>
<line x1="54.00" y1="202.80" x2="54.00" y2="207.40" stroke="#111" stroke-width="1.0"/>
<line x1="52.90" y1="207.40" x2="55.10" y2="207.40" stroke="#111" stroke-width="1.0"/>
<line x1="73.29" y1="202.80" x2="73.29" y2="207.40" stroke="#111" stroke-width="1.0"/>
<line x1="72.19" y1="207.40" x2="74.39" y2="207.40" stroke="#111" stroke-width="1.0"/>
<line x1="111.88" y1="202.80" x2="111.88" y2="207.40" stroke="#111" stroke-width="1.0"/>
<line x1="110.78" y1="207.40" x2="112.98" y2="207.40" stroke="#111" stroke-width="1.0"/>
<line x1="189.07" y1="202.80" x2="189.07" y2="207.40" stroke="#111" stroke-width="1.0"/>
<line x1="187.97" y1="207.40" x2="190.17" y2="207.40" stroke="#111" stroke-width="1.0"/>
<line x1="44.35" y1="202.80" x2="44.35" y2="207.40" stroke="#111" stroke-width="1.0"/>
<line x1="43.25" y1="207.40" x2="45.45" y2="207.40" stroke="#111" stroke-width="1.0"/>
<line x1="54.00" y1="202.80" x2="54.00" y2="207.40" stroke="#111" stroke-width="1.0"/>
<line x1="52.90" y1="207.40" x2="55.10" y2="207.40" stroke="#111" stroke-width="1.0"/>
<line x1="73.29" y1="202.80" x2="73.29" y2="207.40" stroke="#111" stroke-width="1.0"/>
<line x1="72.19" y1="207.40" x2="74.39" y2="207.40" stroke="#111" stroke-width="1.0"/>
<line x1="111.88" y1="213.85" x2="111.88" y2="223.05" stroke="#111" stroke-width="1.0"/>
<line x1="110.78" y1="213.85" x2="112.98" y2="213.85" stroke="#111" stroke-width="1.0"/>
<line x1="110.78" y1="223.05" x2="112.98" y2="223.05" stroke="#111" stroke-width="1.0"/>
<line x1="189.07" y1="228.56" x2="189.07" y2="237.76" stroke="#111" stroke-width="1.0"/>
<line x1="187.97" y1="228.56" x2="190.17" y2="228.56" stroke="#111" stroke-width="1.0"/>
<line x1="187.97" y1="237.76" x2="190.17" y2="237.76" stroke="#111" stroke-width="1.0"/>
<line x1="44.35" y1="202.80" x2="44.35" y2="207.40" stroke="#111" stroke-width="1.0"/>
<line x1="43.25" y1="207.40" x2="45.45" y2="207.40" stroke="#111" stroke-width="1.0"/>
<line x1="54.00" y1="202.80" x2="54.00" y2="207.40" stroke="#111" stroke-width="1.0"/>
<line x1="52.90" y1="207.40" x2="55.10" y2="207.40" stroke="#111" stroke-width="1.0"/>
<line x1="73.29" y1="202.80" x2="73.29" y2="207.40" stroke="#111" stroke-width="1.0"/>
<line x1="72.19" y1="207.40" x2="74.39" y2="207.40" stroke="#111" stroke-width="1.0"/>
<line x1="111.88" y1="201.33" x2="111.88" y2="210.53" stroke="#111" stroke-width="1.0"/>
<line x1="110.78" y1="201.33" x2="112.98" y2="201.33" stroke="#111" stroke-width="1.0"/>
<line x1="110.78" y1="210.53" x2="112.98" y2="210.53" stroke="#111" stroke-width="1.0"/>
<line x1="189.07" y1="213.07" x2="189.07" y2="222.27" stroke="#111" stroke-width="1.0"/>
<line x1="187.97" y1="213.07" x2="190.17" y2="213.07" stroke="#111" stroke-width="1.0"/>
<line x1="187.97" y1="222.27" x2="190.17" y2="222.27" stroke="#111" stroke-width="1.0"/>
<rect x="42.25" y="239.04" width="4.20" height="4.20" fill="#fff" stroke="#111" stroke-width="1.0"/>
<rect x="51.90" y="244.68" width="4.20" height="4.20" fill="#fff" stroke="#111" stroke-width="1.0"/>
<rect x="71.19" y="264.87" width="4.20" height="4.20" fill="#fff" stroke="#111" stroke-width="1.0"/>
<rect x="109.78" y="299.29" width="4.20" height="4.20" fill="#fff" stroke="#111" stroke-width="1.0"/>
<rect x="186.97" y="309.31" width="4.20" height="4.20" fill="#fff" stroke="#111" stroke-width="1.0"/>
<polygon points="44.35,286.36 46.49,288.88 44.35,291.39 42.21,288.88" fill="#fff" stroke="#111" stroke-width="1.0"/>
<polygon points="54.00,315.46 56.14,317.98 54.00,320.50 51.85,317.98" fill="#fff" stroke="#111" stroke-width="1.0"/>
<polygon points="73.29,325.79 75.43,328.31 73.29,330.83 71.15,328.31" fill="#fff" stroke="#111" stroke-width="1.0"/>
<polygon points="111.88,348.33 114.03,350.85 111.88,353.37 109.74,350.85" fill="#fff" stroke="#111" stroke-width="1.0"/>
<polygon points="189.07,353.81 191.21,356.33 189.07,358.85 186.93,356.33" fill="#fff" stroke="#111" stroke-width="1.0"/>
<circle cx="34.70" cy="202.80" r="2.10" fill="#fff" stroke="#111" stroke-width="1.0"/>
<circle cx="44.35" cy="238.80" r="2.10" fill="#fff" stroke="#111" stroke-width="1.0"/>
<circle cx="54.00" cy="256.17" r="2.10" fill="#fff" stroke="#111" stroke-width="1.0"/>
<circle cx="73.29" cy="275.10" r="2.10" fill="#fff" stroke="#111" stroke-width="1.0"/>
<circle cx="111.88" cy="290.60" r="2.10" fill="#fff" stroke="#111" stroke-width="1.0"/>
<circle cx="189.07" cy="294.67" r="2.10" fill="#fff" stroke="#111" stroke-width="1.0"/>
<circle cx="44.35" cy="202.80" r="2.10" fill="#111" stroke="#111" stroke-width="1.0"/>
<circle cx="54.00" cy="202.80" r="2.10" fill="#111" stroke="#111" stroke-width="1.0"/>
<circle cx="73.29" cy="202.80" r="2.10" fill="#111" stroke="#111" stroke-width="1.0"/>
<circle cx="111.88" cy="202.80" r="2.10" fill="#111" stroke="#111" stroke-width="1.0"/>
<circle cx="189.07" cy="202.80" r="2.10" fill="#111" stroke="#111" stroke-width="1.0"/>
<polygon points="44.35,200.28 46.49,202.80 44.35,205.32 42.21,202.80" fill="#111" stroke="#111" stroke-width="1.0"/>
<polygon points="54.00,200.28 56.14,202.80 54.00,205.32 51.85,202.80" fill="#111" stroke="#111" stroke-width="1.0"/>
<polygon points="73.29,200.28 75.43,202.80 73.29,205.32 71.15,202.80" fill="#111" stroke="#111" stroke-width="1.0"/>
<polygon points="111.88,215.93 114.03,218.45 111.88,220.97 109.74,218.45" fill="#111" stroke="#111" stroke-width="1.0"/>
<polygon points="189.07,230.64 191.21,233.16 189.07,235.68 186.93,233.16" fill="#111" stroke="#111" stroke-width="1.0"/>
<rect x="42.25" y="200.70" width="4.20" height="4.20" fill="#111" stroke="#111" stroke-width="1.0"/>
<rect x="51.90" y="200.70" width="4.20" height="4.20" fill="#111" stroke="#111" stroke-width="1.0"/>
<rect x="71.19" y="200.70" width="4.20" height="4.20" fill="#111" stroke="#111" stroke-width="1.0"/>
<rect x="109.78" y="203.83" width="4.20" height="4.20" fill="#111" stroke="#111" stroke-width="1.0"/>
<rect x="186.97" y="215.57" width="4.20" height="4.20" fill="#111" stroke="#111" stroke-width="1.0"/>
<circle cx="34.70" cy="202.80" r="2.10" fill="#fff" stroke="#111" stroke-width="1.0"/>
<line x1="313.00" y1="202.50" x2="313.00" y2="361.90" stroke="#111" stroke-width="1.2"/>
<line x1="312.50" y1="361.40" x2="509.90" y2="361.40" stroke="#111" stroke-width="1.2"/>
<line x1="310.00" y1="361.40" x2="313.00" y2="361.40" stroke="#111" stroke-width="1.2"/>
<line x1="310.00" y1="321.80" x2="313.00" y2="321.80" stroke="#111" stroke-width="1.2"/>
<line x1="310.00" y1="282.20" x2="313.00" y2="282.20" stroke="#111" stroke-width="1.2"/>
<line x1="310.00" y1="242.60" x2="313.00" y2="242.60" stroke="#111" stroke-width="1.2"/>
<line x1="310.00" y1="203.00" x2="313.00" y2="203.00" stroke="#111" stroke-width="1.2"/>
<line x1="313.00" y1="361.40" x2="313.00" y2="364.00" stroke="#111" stroke-width="1.3"/>
<line x1="378.47" y1="361.40" x2="378.47" y2="364.00" stroke="#111" stroke-width="1.3"/>
<line x1="443.93" y1="361.40" x2="443.93" y2="364.00" stroke="#111" stroke-width="1.3"/>
<line x1="509.40" y1="361.40" x2="509.40" y2="364.00" stroke="#111" stroke-width="1.3"/>
<text x="308.40" y="209.20" font-family="Liberation Serif" font-size="9.0" font-weight="normal" text-anchor="end" >100</text>
<text x="307.60" y="246.80" font-family="Liberation Serif" font-size="9.0" font-weight="normal" text-anchor="end" >75</text>
<text x="307.40" y="287.00" font-family="Liberation Serif" font-size="9.0" font-weight="normal" text-anchor="end" >50</text>
<text x="307.40" y="326.60" font-family="Liberation Serif" font-size="9.0" font-weight="normal" text-anchor="end" >25</text>
<text x="307.60" y="364.60" font-family="Liberation Serif" font-size="9.0" font-weight="normal" text-anchor="end" >0</text>
<text x="311.80" y="375.80" font-family="Liberation Serif" font-size="9.0" font-weight="normal" text-anchor="middle" >0</text>
<text x="377.27" y="375.80" font-family="Liberation Serif" font-size="9.0" font-weight="normal" text-anchor="middle" >50</text>
<text x="442.73" y="375.80" font-family="Liberation Serif" font-size="9.0" font-weight="normal" text-anchor="middle" >100</text>
<text x="508.20" y="375.80" font-family="Liberation Serif" font-size="9.0" font-weight="normal" text-anchor="middle" >150</text>
<polyline points="313.00,203.00 333.95,239.43 354.90,263.19 396.80,275.86 480.59,293.29" fill="none" stroke="#111" stroke-width="1.15" stroke-linejoin="round"/>
<polyline points="313.00,203.00 333.95,263.19 354.90,290.12 396.80,310.71 480.59,336.06" fill="none" stroke="#111" stroke-width="1.15" stroke-linejoin="round"/>
<polyline points="313.00,203.00 333.95,255.27 354.90,285.37 396.80,307.54 480.59,330.67" fill="none" stroke="#111" stroke-width="1.15" stroke-linejoin="round"/>
<polyline points="313.00,203.00 333.95,203.00 354.90,207.75 396.80,212.50 480.59,218.05" fill="none" stroke="#111" stroke-width="1.15" stroke-linejoin="round"/>
<polyline points="313.00,203.00 333.95,207.75 354.90,215.67 396.80,218.84 480.59,276.34" fill="none" stroke="#111" stroke-width="1.15" stroke-linejoin="round"/>
<polyline points="313.00,203.00 333.95,203.00 354.90,203.00 396.80,207.75 480.59,218.05" fill="none" stroke="#111" stroke-width="1.15" stroke-linejoin="round"/>
<line x1="333.95" y1="234.83" x2="333.95" y2="244.03" stroke="#111" stroke-width="1.0"/>
<line x1="332.85" y1="234.83" x2="335.05" y2="234.83" stroke="#111" stroke-width="1.0"/>
<line x1="332.85" y1="244.03" x2="335.05" y2="244.03" stroke="#111" stroke-width="1.0"/>
<line x1="354.90" y1="258.59" x2="354.90" y2="267.79" stroke="#111" stroke-width="1.0"/>
<line x1="353.80" y1="258.59" x2="356.00" y2="258.59" stroke="#111" stroke-width="1.0"/>
<line x1="353.80" y1="267.79" x2="356.00" y2="267.79" stroke="#111" stroke-width="1.0"/>
<line x1="396.80" y1="271.26" x2="396.80" y2="280.46" stroke="#111" stroke-width="1.0"/>
<line x1="395.70" y1="271.26" x2="397.90" y2="271.26" stroke="#111" stroke-width="1.0"/>
<line x1="395.70" y1="280.46" x2="397.90" y2="280.46" stroke="#111" stroke-width="1.0"/>
<line x1="480.59" y1="288.69" x2="480.59" y2="297.89" stroke="#111" stroke-width="1.0"/>
<line x1="479.49" y1="288.69" x2="481.69" y2="288.69" stroke="#111" stroke-width="1.0"/>
<line x1="479.49" y1="297.89" x2="481.69" y2="297.89" stroke="#111" stroke-width="1.0"/>
<line x1="333.95" y1="258.59" x2="333.95" y2="267.79" stroke="#111" stroke-width="1.0"/>
<line x1="332.85" y1="258.59" x2="335.05" y2="258.59" stroke="#111" stroke-width="1.0"/>
<line x1="332.85" y1="267.79" x2="335.05" y2="267.79" stroke="#111" stroke-width="1.0"/>
<line x1="354.90" y1="285.52" x2="354.90" y2="294.72" stroke="#111" stroke-width="1.0"/>
<line x1="353.80" y1="285.52" x2="356.00" y2="285.52" stroke="#111" stroke-width="1.0"/>
<line x1="353.80" y1="294.72" x2="356.00" y2="294.72" stroke="#111" stroke-width="1.0"/>
<line x1="396.80" y1="306.11" x2="396.80" y2="315.31" stroke="#111" stroke-width="1.0"/>
<line x1="395.70" y1="306.11" x2="397.90" y2="306.11" stroke="#111" stroke-width="1.0"/>
<line x1="395.70" y1="315.31" x2="397.90" y2="315.31" stroke="#111" stroke-width="1.0"/>
<line x1="480.59" y1="331.46" x2="480.59" y2="340.66" stroke="#111" stroke-width="1.0"/>
<line x1="479.49" y1="331.46" x2="481.69" y2="331.46" stroke="#111" stroke-width="1.0"/>
<line x1="479.49" y1="340.66" x2="481.69" y2="340.66" stroke="#111" stroke-width="1.0"/>
<line x1="333.95" y1="250.67" x2="333.95" y2="259.87" stroke="#111" stroke-width="1.0"/>
<line x1="332.85" y1="250.67" x2="335.05" y2="250.67" stroke="#111" stroke-width="1.0"/>
<line x1="332.85" y1="259.87" x2="335.05" y2="259.87" stroke="#111" stroke-width="1.0"/>
<line x1="354.90" y1="280.77" x2="354.90" y2="289.97" stroke="#111" stroke-width="1.0"/>
<line x1="353.80" y1="280.77" x2="356.00" y2="280.77" stroke="#111" stroke-width="1.0"/>
<line x1="353.80" y1="289.97" x2="356.00" y2="289.97" stroke="#111" stroke-width="1.0"/>
<line x1="396.80" y1="302.94" x2="396.80" y2="312.14" stroke="#111" stroke-width="1.0"/>
<line x1="395.70" y1="302.94" x2="397.90" y2="302.94" stroke="#111" stroke-width="1.0"/>
<line x1="395.70" y1="312.14" x2="397.90" y2="312.14" stroke="#111" stroke-width="1.0"/>
<line x1="480.59" y1="326.07" x2="480.59" y2="335.27" stroke="#111" stroke-width="1.0"/>
<line x1="479.49" y1="326.07" x2="481.69" y2="326.07" stroke="#111" stroke-width="1.0"/>
<line x1="479.49" y1="335.27" x2="481.69" y2="335.27" stroke="#111" stroke-width="1.0"/>
<line x1="333.95" y1="203.00" x2="333.95" y2="207.60" stroke="#111" stroke-width="1.0"/>
<line x1="332.85" y1="207.60" x2="335.05" y2="207.60" stroke="#111" stroke-width="1.0"/>
<line x1="354.90" y1="203.15" x2="354.90" y2="212.35" stroke="#111" stroke-width="1.0"/>
<line x1="353.80" y1="203.15" x2="356.00" y2="203.15" stroke="#111" stroke-width="1.0"/>
<line x1="353.80" y1="212.35" x2="356.00" y2="212.35" stroke="#111" stroke-width="1.0"/>
<line x1="396.80" y1="207.90" x2="396.80" y2="217.10" stroke="#111" stroke-width="1.0"/>
<line x1="395.70" y1="207.90" x2="397.90" y2="207.90" stroke="#111" stroke-width="1.0"/>
<line x1="395.70" y1="217.10" x2="397.90" y2="217.10" stroke="#111" stroke-width="1.0"/>
<line x1="480.59" y1="213.45" x2="480.59" y2="222.65" stroke="#111" stroke-width="1.0"/>
<line x1="479.49" y1="213.45" x2="481.69" y2="213.45" stroke="#111" stroke-width="1.0"/>
<line x1="479.49" y1="222.65" x2="481.69" y2="222.65" stroke="#111" stroke-width="1.0"/>
<line x1="333.95" y1="203.15" x2="333.95" y2="212.35" stroke="#111" stroke-width="1.0"/>
<line x1="332.85" y1="203.15" x2="335.05" y2="203.15" stroke="#111" stroke-width="1.0"/>
<line x1="332.85" y1="212.35" x2="335.05" y2="212.35" stroke="#111" stroke-width="1.0"/>
<line x1="354.90" y1="211.07" x2="354.90" y2="220.27" stroke="#111" stroke-width="1.0"/>
<line x1="353.80" y1="211.07" x2="356.00" y2="211.07" stroke="#111" stroke-width="1.0"/>
<line x1="353.80" y1="220.27" x2="356.00" y2="220.27" stroke="#111" stroke-width="1.0"/>
<line x1="396.80" y1="214.24" x2="396.80" y2="223.44" stroke="#111" stroke-width="1.0"/>
<line x1="395.70" y1="214.24" x2="397.90" y2="214.24" stroke="#111" stroke-width="1.0"/>
<line x1="395.70" y1="223.44" x2="397.90" y2="223.44" stroke="#111" stroke-width="1.0"/>
<line x1="480.59" y1="271.74" x2="480.59" y2="280.94" stroke="#111" stroke-width="1.0"/>
<line x1="479.49" y1="271.74" x2="481.69" y2="271.74" stroke="#111" stroke-width="1.0"/>
<line x1="479.49" y1="280.94" x2="481.69" y2="280.94" stroke="#111" stroke-width="1.0"/>
<line x1="333.95" y1="203.00" x2="333.95" y2="207.60" stroke="#111" stroke-width="1.0"/>
<line x1="332.85" y1="207.60" x2="335.05" y2="207.60" stroke="#111" stroke-width="1.0"/>
<line x1="354.90" y1="203.00" x2="354.90" y2="207.60" stroke="#111" stroke-width="1.0"/>
<line x1="353.80" y1="207.60" x2="356.00" y2="207.60" stroke="#111" stroke-width="1.0"/>
<line x1="396.80" y1="203.15" x2="396.80" y2="212.35" stroke="#111" stroke-width="1.0"/>
<line x1="395.70" y1="203.15" x2="397.90" y2="203.15" stroke="#111" stroke-width="1.0"/>
<line x1="395.70" y1="212.35" x2="397.90" y2="212.35" stroke="#111" stroke-width="1.0"/>
<line x1="480.59" y1="213.45" x2="480.59" y2="222.65" stroke="#111" stroke-width="1.0"/>
<line x1="479.49" y1="213.45" x2="481.69" y2="213.45" stroke="#111" stroke-width="1.0"/>
<line x1="479.49" y1="222.65" x2="481.69" y2="222.65" stroke="#111" stroke-width="1.0"/>
<rect x="331.85" y="237.33" width="4.20" height="4.20" fill="#fff" stroke="#111" stroke-width="1.0"/>
<rect x="352.80" y="261.09" width="4.20" height="4.20" fill="#fff" stroke="#111" stroke-width="1.0"/>
<rect x="394.70" y="273.76" width="4.20" height="4.20" fill="#fff" stroke="#111" stroke-width="1.0"/>
<rect x="478.49" y="291.19" width="4.20" height="4.20" fill="#fff" stroke="#111" stroke-width="1.0"/>
<polygon points="333.95,260.67 336.09,263.19 333.95,265.71 331.81,263.19" fill="#fff" stroke="#111" stroke-width="1.0"/>
<polygon points="354.90,287.60 357.04,290.12 354.90,292.64 352.76,290.12" fill="#fff" stroke="#111" stroke-width="1.0"/>
<polygon points="396.80,308.19 398.94,310.71 396.80,313.23 394.66,310.71" fill="#fff" stroke="#111" stroke-width="1.0"/>
<polygon points="480.59,333.54 482.74,336.06 480.59,338.58 478.45,336.06" fill="#fff" stroke="#111" stroke-width="1.0"/>
<circle cx="313.00" cy="203.00" r="2.10" fill="#fff" stroke="#111" stroke-width="1.0"/>
<circle cx="333.95" cy="255.27" r="2.10" fill="#fff" stroke="#111" stroke-width="1.0"/>
<circle cx="354.90" cy="285.37" r="2.10" fill="#fff" stroke="#111" stroke-width="1.0"/>
<circle cx="396.80" cy="307.54" r="2.10" fill="#fff" stroke="#111" stroke-width="1.0"/>
<circle cx="480.59" cy="330.67" r="2.10" fill="#fff" stroke="#111" stroke-width="1.0"/>
<rect x="331.85" y="200.90" width="4.20" height="4.20" fill="#111" stroke="#111" stroke-width="1.0"/>
<rect x="352.80" y="205.65" width="4.20" height="4.20" fill="#111" stroke="#111" stroke-width="1.0"/>
<rect x="394.70" y="210.40" width="4.20" height="4.20" fill="#111" stroke="#111" stroke-width="1.0"/>
<rect x="478.49" y="215.95" width="4.20" height="4.20" fill="#111" stroke="#111" stroke-width="1.0"/>
<polygon points="333.95,205.23 336.09,207.75 333.95,210.27 331.81,207.75" fill="#111" stroke="#111" stroke-width="1.0"/>
<polygon points="354.90,213.15 357.04,215.67 354.90,218.19 352.76,215.67" fill="#111" stroke="#111" stroke-width="1.0"/>
<polygon points="396.80,216.32 398.94,218.84 396.80,221.36 394.66,218.84" fill="#111" stroke="#111" stroke-width="1.0"/>
<polygon points="480.59,273.82 482.74,276.34 480.59,278.86 478.45,276.34" fill="#111" stroke="#111" stroke-width="1.0"/>
<circle cx="333.95" cy="203.00" r="2.10" fill="#111" stroke="#111" stroke-width="1.0"/>
<circle cx="354.90" cy="203.00" r="2.10" fill="#111" stroke="#111" stroke-width="1.0"/>
<circle cx="396.80" cy="207.75" r="2.10" fill="#111" stroke="#111" stroke-width="1.0"/>
<circle cx="480.59" cy="218.05" r="2.10" fill="#111" stroke="#111" stroke-width="1.0"/>
<polygon points="333.95,260.67 336.09,263.19 333.95,265.71 331.81,263.19" fill="#111" stroke="#111" stroke-width="1.0"/>
<circle cx="313.00" cy="203.00" r="2.10" fill="#fff" stroke="#111" stroke-width="1.0"/>
<clipPath id="c0"><rect x="30.0" y="160" width="6" height="14"/><rect x="26" y="160" width="6" height="6.8"/></clipPath>
<text x="30.3" y="171.4" font-family="Liberation Serif" font-size="9" text-anchor="middle" clip-path="url(#c0)">0</text>
<text x="0.20" y="11.50" font-family="Liberation Sans" font-size="16.0" font-weight="bold" text-anchor="start" style="fill:#000;stroke:#000;stroke-width:0.8px">A</text>
<text x="278.40" y="11.50" font-family="Liberation Sans" font-size="16.0" font-weight="bold" text-anchor="start" style="fill:#000;stroke:#000;stroke-width:0.8px">B</text>
<text x="-0.40" y="207.90" font-family="Liberation Sans" font-size="15.8" font-weight="bold" text-anchor="start" style="fill:#000;stroke:#000;stroke-width:0.8px">C</text>
<text x="278.30" y="208.40" font-family="Liberation Sans" font-size="16.0" font-weight="bold" text-anchor="start" style="fill:#000;stroke:#000;stroke-width:0.8px">D</text>
<text x="73.00" y="185.60" font-family="Liberation Serif" font-size="9.6" font-weight="normal" text-anchor="start" textLength="97.8" lengthAdjust="spacingAndGlyphs">ADR concentration (nM)</text>
<text x="367.50" y="185.00" font-family="Liberation Serif" font-size="9.6" font-weight="normal" text-anchor="start" textLength="96.5" lengthAdjust="spacingAndGlyphs">CPT concentration (nM)</text>
<text x="71.10" y="385.80" font-family="Liberation Serif" font-size="9.6" font-weight="normal" text-anchor="start" textLength="97.7" lengthAdjust="spacingAndGlyphs">ADR concentration (nM)</text>
<text x="369.40" y="386.40" font-family="Liberation Serif" font-size="9.6" font-weight="normal" text-anchor="start" textLength="96.1" lengthAdjust="spacingAndGlyphs">CPT concentration (nM)</text>
<text transform="translate(10.2,84.6) rotate(-90)" font-family="Liberation Serif" font-size="11" text-anchor="middle" textLength="60.4" lengthAdjust="spacingAndGlyphs">% Viable cells</text>
<text transform="translate(11.3,282.0) rotate(-90)" font-family="Liberation Serif" font-size="10.8" text-anchor="middle" textLength="60.5" lengthAdjust="spacingAndGlyphs">% Viable cells</text>
<line x1="203.90" y1="55.80" x2="230.20" y2="55.80" stroke="#111" stroke-width="1.1"/>
<rect x="214.00" y="53.90" width="3.80" height="3.80" fill="#fff" stroke="#111" stroke-width="1.0"/>
<text x="244.00" y="59.80" font-family="Liberation Serif" font-size="7.6" textLength="41.9" lengthAdjust="spacingAndGlyphs">32D-neo Hygro</text>
<line x1="203.90" y1="62.90" x2="230.20" y2="62.90" stroke="#111" stroke-width="1.1"/>
<circle cx="215.90" cy="62.90" r="2.15" fill="#fff" stroke="#111" stroke-width="1.0"/>
<text x="244.00" y="67.50" font-family="Liberation Serif" font-size="7.6" textLength="43.1" lengthAdjust="spacingAndGlyphs">32D-max Hygro</text>
<line x1="203.90" y1="71.10" x2="230.20" y2="71.10" stroke="#111" stroke-width="1.1"/>
<polygon points="215.90,68.82 217.84,71.10 215.90,73.38 213.96,71.10" fill="#fff" stroke="#111" stroke-width="1.0"/>
<text x="244.00" y="74.80" font-family="Liberation Serif" font-size="7.6" textLength="48.8" lengthAdjust="spacingAndGlyphs">32D-c-myc Hygro</text>
<line x1="203.90" y1="78.30" x2="230.20" y2="78.30" stroke="#111" stroke-width="1.1"/>
<rect x="214.00" y="76.40" width="3.80" height="3.80" fill="#111" stroke="#111" stroke-width="1.0"/>
<text x="244.00" y="82.60" font-family="Liberation Serif" font-size="7.6" textLength="41.0" lengthAdjust="spacingAndGlyphs">32D-neo Bcl -2</text>
<line x1="203.90" y1="85.70" x2="232.00" y2="85.70" stroke="#111" stroke-width="1.1"/>
<circle cx="215.90" cy="85.70" r="2.15" fill="#111" stroke="#111" stroke-width="1.0"/>
<text x="244.00" y="90.50" font-family="Liberation Serif" font-size="7.6" textLength="41.0" lengthAdjust="spacingAndGlyphs">32D-max Bcl-2</text>
<line x1="203.90" y1="95.00" x2="232.00" y2="95.00" stroke="#111" stroke-width="1.1"/>
<polygon points="215.90,92.72 217.84,95.00 215.90,97.28 213.96,95.00" fill="#111" stroke="#111" stroke-width="1.0"/>
<text x="244.00" y="99.10" font-family="Liberation Serif" font-size="7.6" textLength="46.2" lengthAdjust="spacingAndGlyphs">32D-c-myc Bcl-2</text>
<line x1="196.80" y1="242.00" x2="230.20" y2="242.00" stroke="#111" stroke-width="1.1"/>
<rect x="211.50" y="240.10" width="3.80" height="3.80" fill="#fff" stroke="#111" stroke-width="1.0"/>
<text x="240.50" y="245.80" font-family="Liberation Serif" font-size="7.6" textLength="37.4" lengthAdjust="spacingAndGlyphs">32D-neo Puro</text>
<line x1="196.80" y1="250.40" x2="230.20" y2="250.40" stroke="#111" stroke-width="1.1"/>
<polygon points="213.40,248.12 215.34,250.40 213.40,252.68 211.46,250.40" fill="#fff" stroke="#111" stroke-width="1.0"/>
<text x="240.50" y="254.50" font-family="Liberation Serif" font-size="7.6" textLength="44.6" lengthAdjust="spacingAndGlyphs">32D-c-myc Puro</text>
<line x1="196.80" y1="259.80" x2="230.20" y2="259.80" stroke="#111" stroke-width="1.1"/>
<circle cx="213.40" cy="259.80" r="2.15" fill="#fff" stroke="#111" stroke-width="1.0"/>
<text x="240.50" y="263.10" font-family="Liberation Serif" font-size="7.6" textLength="39.4" lengthAdjust="spacingAndGlyphs">32D-max Puro</text>
<line x1="196.80" y1="268.40" x2="230.20" y2="268.40" stroke="#111" stroke-width="1.1"/>
<rect x="211.50" y="266.50" width="3.80" height="3.80" fill="#111" stroke="#111" stroke-width="1.0"/>
<text x="240.50" y="271.90" font-family="Liberation Serif" font-size="7.6" textLength="39.0" lengthAdjust="spacingAndGlyphs">32D-neo BclX</text>
<text x="280.00" y="274.40" font-family="Liberation Serif" font-size="6.6">L</text>
<line x1="196.80" y1="276.90" x2="230.20" y2="276.90" stroke="#111" stroke-width="1.1"/>
<polygon points="213.40,274.62 215.34,276.90 213.40,279.18 211.46,276.90" fill="#111" stroke="#111" stroke-width="1.0"/>
<text x="240.50" y="280.50" font-family="Liberation Serif" font-size="7.6" textLength="46.7" lengthAdjust="spacingAndGlyphs">32D-c-myc Bcl X</text>
<text x="288.30" y="282.80" font-family="Liberation Serif" font-size="6.6">L</text>
<line x1="196.80" y1="286.20" x2="230.20" y2="286.20" stroke="#111" stroke-width="1.1"/>
<circle cx="213.40" cy="286.20" r="2.15" fill="#111" stroke="#111" stroke-width="1.0"/>
<text x="240.50" y="289.10" font-family="Liberation Serif" font-size="7.6" textLength="41.5" lengthAdjust="spacingAndGlyphs">32D-max BclX</text>
<text x="282.20" y="292.00" font-family="Liberation Serif" font-size="6.6">L</text>
</svg>
</body></html>
